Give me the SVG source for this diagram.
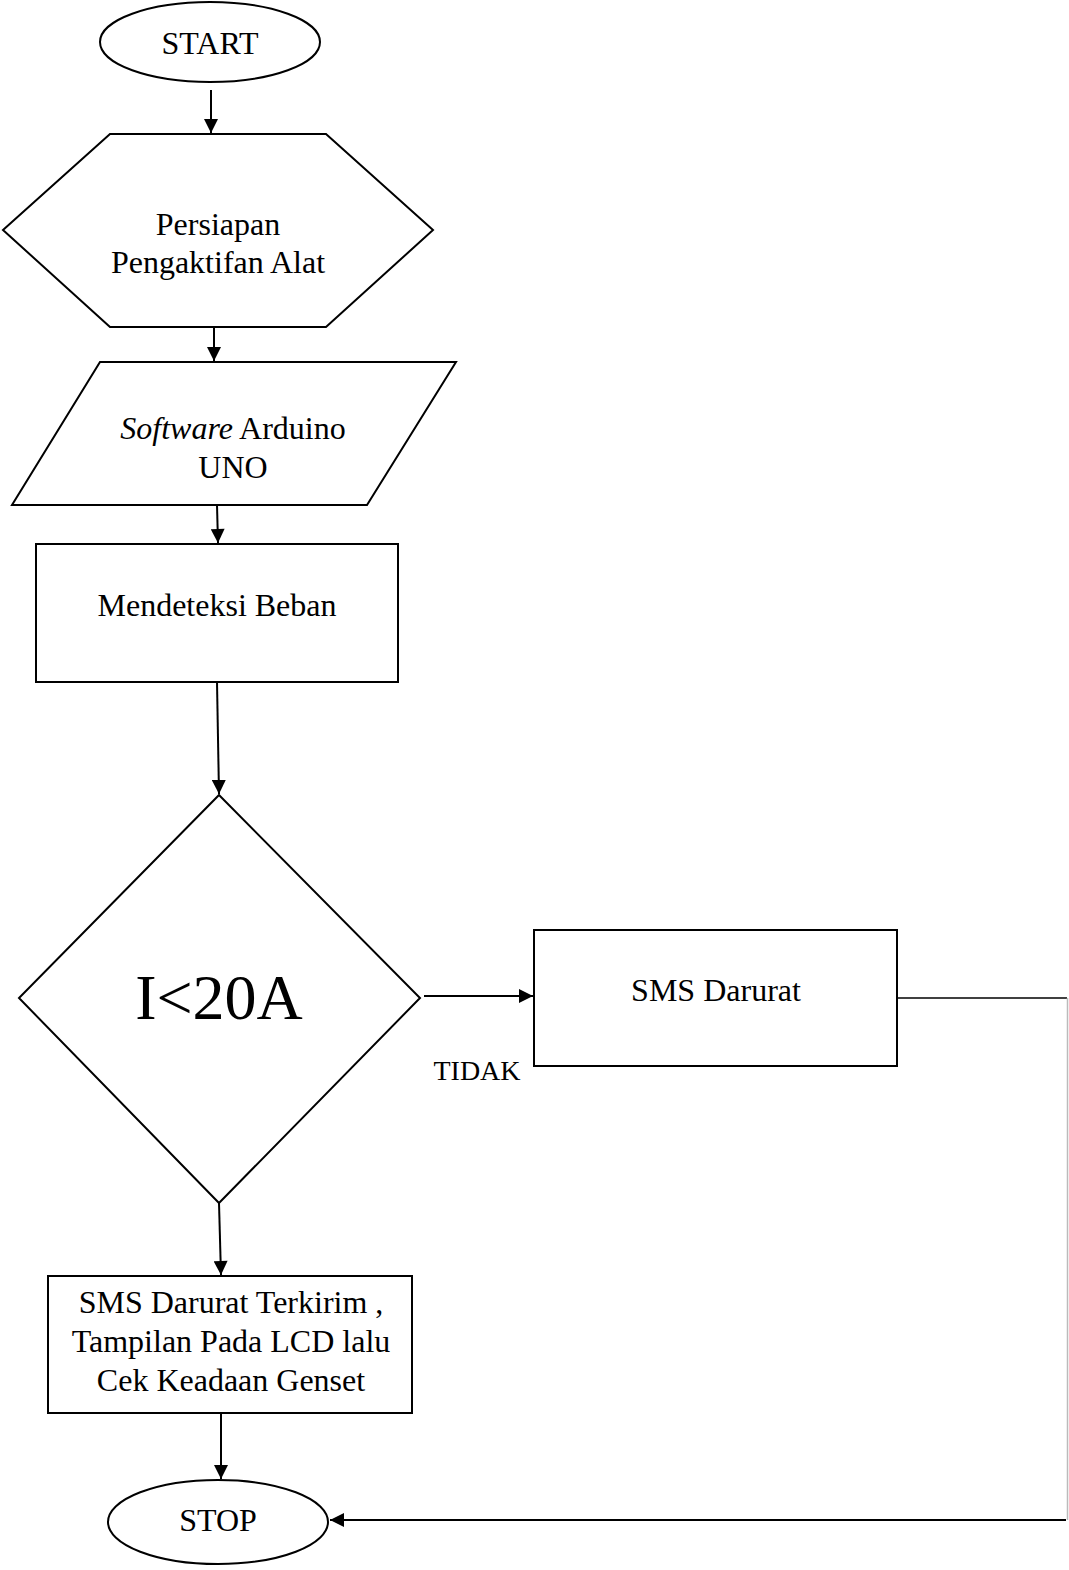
<svg xmlns="http://www.w3.org/2000/svg" width="1069" height="1570" viewBox="0 0 1069 1570">
<style>
.s{fill:#fff;stroke:#000;stroke-width:2}
.t{font-family:"Liberation Serif","Times New Roman",serif;font-size:32px;fill:#000;text-anchor:middle}
.c{fill:none;stroke:#000;stroke-width:2}
</style>
<defs>
<marker id="ah" viewBox="0 0 10 10" refX="10" refY="5" markerWidth="15" markerHeight="14" markerUnits="userSpaceOnUse" orient="auto">
<path d="M0,0 L10,5 L0,10 z" fill="#000"/>
</marker>
</defs>
<rect width="1069" height="1570" fill="#fff"/>
<g id="start">
<ellipse class="s" cx="210" cy="42" rx="110" ry="40"/>
<text class="t" x="210" y="54">START</text>
</g>
<g id="persiapan">
<polygon class="s" points="3,230 110,134 326,134 433,230 326,327 110,327"/>
<text class="t" x="218" y="235">Persiapan</text>
<text class="t" x="218" y="273">Pengaktifan Alat</text>
</g>
<g id="software">
<polygon class="s" points="100,362 456,362 367,505 12,505"/>
<text class="t" x="233" y="439"><tspan font-style="italic">Software</tspan> Arduino</text>
<text class="t" x="233" y="478">UNO</text>
</g>
<g id="mendeteksi">
<rect class="s" x="36" y="544" width="362" height="138"/>
<text class="t" x="217" y="616">Mendeteksi Beban</text>
</g>
<g id="decision">
<polygon class="s" points="219,795 420,998 219,1203 19,998"/>
<text class="t" x="219" y="1019" style="font-size:64px">I&lt;20A</text>
</g>
<g id="smsdarurat">
<rect class="s" x="534" y="930" width="363" height="136"/>
<text class="t" x="716" y="1001">SMS Darurat</text>
</g>
<g id="terkirim">
<rect class="s" x="48" y="1276" width="364" height="137"/>
<text class="t" x="231" y="1313">SMS Darurat Terkirim ,</text>
<text class="t" x="231" y="1352">Tampilan Pada LCD lalu</text>
<text class="t" x="231" y="1391">Cek Keadaan Genset</text>
</g>
<g id="stop">
<ellipse class="s" cx="218" cy="1522" rx="110" ry="42"/>
<text class="t" x="218" y="1531">STOP</text>
</g>
<text class="t" x="477" y="1080" style="font-size:28px">TIDAK</text>
<g id="connectors">
<line class="c" x1="211" y1="90" x2="211" y2="133" marker-end="url(#ah)"/>
<line class="c" x1="214" y1="327" x2="214" y2="361" marker-end="url(#ah)"/>
<line class="c" x1="217" y1="505" x2="218" y2="543" marker-end="url(#ah)"/>
<line class="c" x1="217" y1="682" x2="219" y2="794" marker-end="url(#ah)"/>
<line class="c" x1="424" y1="996" x2="533" y2="996" marker-end="url(#ah)"/>
<line class="c" x1="219" y1="1203" x2="221" y2="1275" marker-end="url(#ah)"/>
<line class="c" x1="221" y1="1413" x2="221" y2="1479" marker-end="url(#ah)"/>
<polyline fill="none" stroke="#000" stroke-width="1.5" points="897,998 1067,998"/>
<line x1="1067.5" y1="998" x2="1067.5" y2="1520" stroke="#bbb" stroke-width="1.5"/>
<line class="c" x1="1066" y1="1520" x2="330" y2="1520" marker-end="url(#ah)"/>
</g>
</svg>
